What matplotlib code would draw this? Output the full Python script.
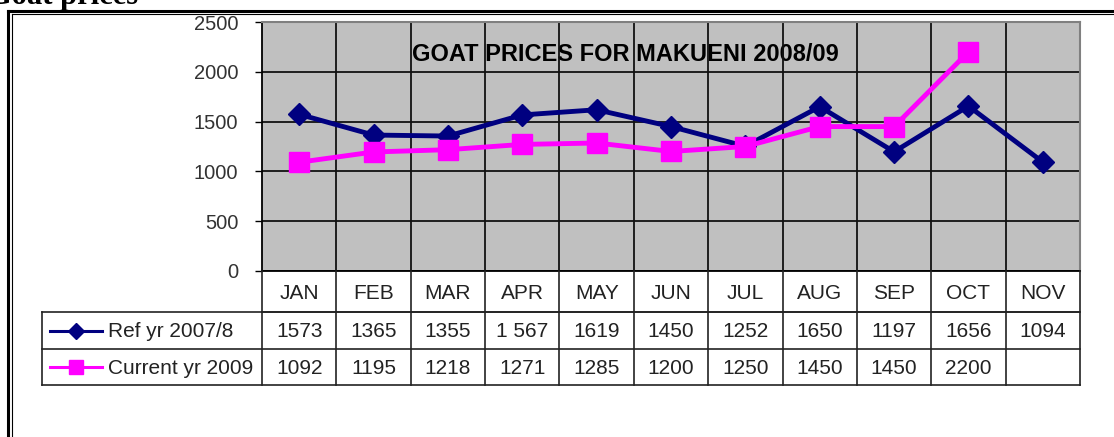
import numpy as np
import matplotlib
matplotlib.use("Agg")
import matplotlib.pyplot as plt
from matplotlib.lines import Line2D

plt.rcParams['font.family'] = ['Liberation Sans', 'DejaVu Sans']

months = ["JAN", "FEB", "MAR", "APR", "MAY", "JUN", "JUL", "AUG", "SEP", "OCT", "NOV"]
ref_prices = [1573, 1365, 1355, 1567, 1619, 1450, 1252, 1650, 1197, 1656, 1094]
cur_prices = [1092, 1195, 1218, 1271, 1285, 1200, 1250, 1450, 1450, 2200, np.nan]
ref_labels = ["1573", "1365", "1355", "1 567", "1619", "1450", "1252", "1650", "1197", "1656", "1094"]
cur_labels = ["1092", "1195", "1218", "1271", "1285", "1200", "1250", "1450", "1450", "2200", ""]
series_names = ["Ref yr 2007/8", "Current yr 2009"]
yticks = [0, 500, 1000, 1500, 2000, 2500]

W, H = 1114, 437
NAVY = "#000080"
MAGENTA = "#FF00FF"
GRAY = "#C0C0C0"

fig = plt.figure(figsize=(W / 100, H / 100), dpi=100)


def px_box(x0, y0, x1, y1):
    return [x0 / W, 1 - y1 / H, (x1 - x0) / W, (y1 - y0) / H]


# plot area
pl, pr, pt, pb = 262, 1080, 22, 271
ax = fig.add_axes(px_box(pl, pt, pr, pb))
ax.set_facecolor(GRAY)
x = np.arange(len(months))
ax.set_xlim(-0.5, len(months) - 0.5)
ax.set_ylim(0, 2500)
ax.set_yticks(yticks)
ax.set_yticklabels([str(t) for t in yticks], fontsize=14.5, color="#333333")
ax.set_xticks([])
ax.set_xticks(np.arange(0.5, len(months) - 0.5, 1), minor=True)
ax.tick_params(axis='x', which='both', length=0)
ax.tick_params(axis='y', length=5, width=1, pad=12)
ax.grid(True, which='minor', axis='x', color="#111111", lw=1.3)
ax.grid(True, which='major', axis='y', color="#111111", lw=1.3)
for s in ["top", "right"]:
    ax.spines[s].set_color("#808080")
    ax.spines[s].set_linewidth(1.5)
for s in ["left", "bottom"]:
    ax.spines[s].set_color("black")
    ax.spines[s].set_linewidth(1.3)

ax.plot(x, ref_prices, color=NAVY, lw=3.5, marker="D", ms=11, zorder=3, clip_on=False)
ax.plot(x, cur_prices, color=MAGENTA, lw=3.5, marker="s", ms=14, zorder=4, clip_on=False)

ax.text((625 - pl) / (pr - pl), 0.87, "GOAT PRICES FOR MAKUENI 2008/09", transform=ax.transAxes,
        ha="center", va="center", fontsize=17, fontweight="bold", zorder=1)

# data table under the plot
tl, tt, tb = 42, 271, 385
col_w = (pr - pl) / len(months)
lead = (pl - tl) / col_w
tax = fig.add_axes(px_box(tl, tt, pr, tb))
tax.set_xlim(-0.5 - lead, len(months) - 0.5)
tax.set_ylim(tb - tt, 0)
tax.axis("off")

lc = "#222222"
r1, r2, r3 = 41, 78, tb - tt
tax.plot([-0.5, len(months) - 0.5], [r1, r1], color=lc, lw=1.2, clip_on=False)
tax.plot([-0.5 - lead, len(months) - 0.5], [r1, r1], color=lc, lw=1.2, clip_on=False)
tax.plot([-0.5 - lead, len(months) - 0.5], [r2, r2], color=lc, lw=1.2, clip_on=False)
tax.plot([-0.5 - lead, len(months) - 0.5], [r3, r3], color=lc, lw=1.2, clip_on=False)
tax.plot([-0.5 - lead, -0.5 - lead], [r1, r3], color=lc, lw=1.2, clip_on=False)
for k in range(len(months) + 1):
    tax.plot([k - 0.5, k - 0.5], [0, r3], color=lc, lw=1.2, clip_on=False)

fs = 15
for i, m in enumerate(months):
    tax.text(i, r1 / 2 + 2, m, ha="center", va="center", fontsize=fs, color="#222222")
    tax.text(i, (r1 + r2) / 2 + 1, ref_labels[i], ha="center", va="center", fontsize=fs, color="#222222")
    tax.text(i, (r2 + r3) / 2 + 1, cur_labels[i], ha="center", va="center", fontsize=fs, color="#222222")


def col_x(px):
    return -0.5 - lead + (px - tl) / col_w


# legend keys inside the first column
for row_mid, name, color, mk, ms in [((r1 + r2) / 2, series_names[0], NAVY, "D", 8),
                                     ((r2 + r3) / 2, series_names[1], MAGENTA, "s", 10)]:
    tax.plot([col_x(50), col_x(102)], [row_mid, row_mid], color=color, lw=2.2, clip_on=False)
    tax.plot([col_x(76)], [row_mid], color=color, marker=mk, ms=ms, clip_on=False)
    tax.text(col_x(108), row_mid + 1, name, ha="left", va="center", fontsize=fs, color="#222222")

# page frame and heading cut off at the top
fig.add_artist(Line2D([7.5 / W, 1], [1 - 11 / H, 1 - 11 / H], color="black", lw=2.2))
fig.add_artist(Line2D([8 / W, 8 / W], [0, 1 - 11 / H], color="black", lw=2.2))
fig.add_artist(Line2D([11.5 / W, 1], [1 - 13.5 / H, 1 - 13.5 / H], color="black", lw=0.8))
fig.add_artist(Line2D([11.5 / W, 11.5 / W], [0, 1 - 13.5 / H], color="black", lw=0.8))
fig.text(138 / W, 1 - 4 / H, "Goat prices", ha="right", va="baseline",
         fontsize=22, fontweight="bold", family=["Liberation Serif", "DejaVu Serif"])

fig.savefig("out.png", dpi=100)
